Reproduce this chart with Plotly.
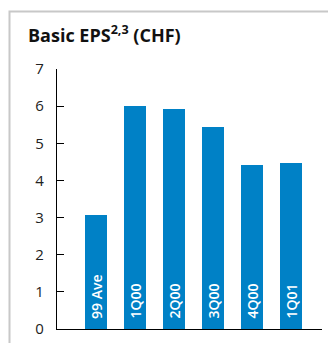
import plotly.graph_objects as go

categories = ["99 Ave", "1Q00", "2Q00", "3Q00", "4Q00", "1Q01"]
eps_values = [3.07, 6.00, 5.92, 5.44, 4.42, 4.47]
y_ticks = [0, 1, 2, 3, 4, 5, 6, 7]

W, H = 328, 343
ML, MR, MT, MB = 57, 6, 69, 14
PW, PH = W - ML - MR, H - MT - MB

def px(x):
    return (x - ML) / PW

def py(y):
    return (H - MB - y) / PH

BLUE = "#0081C6"
FONT = "Open Sans"

fig = go.Figure()
fig.add_trace(go.Bar(
    x=list(range(len(categories))),
    y=eps_values,
    width=0.564,
    marker=dict(color=BLUE, line=dict(width=0)),
    hoverinfo="skip",
))

for i, c in enumerate(categories):
    fig.add_annotation(
        x=i, y=0, xref="x", yref="y",
        text=c, textangle=-90, showarrow=False,
        xanchor="center", yanchor="bottom", yshift=8,
        font=dict(family=FONT, size=14, color="white", weight=600),
    )

fig.add_annotation(
    x=px(26), y=py(34), xref="paper", yref="paper",
    text="<b>Basic EPS<sup>2,3</sup> (CHF)</b>",
    showarrow=False, xanchor="left", yanchor="middle",
    font=dict(family=FONT, size=18, color="#111111"),
)

# frame (left and top borders)
fig.add_shape(
    type="path", xref="paper", yref="paper",
    path=f"M {px(9.5)} {py(345)} L {px(9.5)} {py(11.5)} L {px(328)} {py(11.5)}",
    line=dict(color="#c8c8c8", width=2),
)

fig.update_layout(
    width=W, height=H,
    margin=dict(l=ML, r=MR, t=MT, b=MB, pad=0),
    paper_bgcolor="white", plot_bgcolor="white",
    showlegend=False,
    bargap=0,
    xaxis=dict(
        range=[-1.0, 5.795], showgrid=False, zeroline=False,
        showline=True, linecolor="black", linewidth=1.2,
        showticklabels=False, ticks="", fixedrange=True,
    ),
    yaxis=dict(
        range=[0, 7], tickvals=y_ticks, ticktext=[str(v) for v in y_ticks],
        showgrid=False, zeroline=False,
        showline=True, linecolor="black", linewidth=1.2,
        ticks="inside", ticklen=7, tickwidth=1.2, tickcolor="black",
        ticklabelstandoff=9,
        tickfont=dict(family=FONT, size=15, color="#222222"),
        fixedrange=True,
    ),
)

fig.write_html("out.html", config={"displayModeBar": False})
